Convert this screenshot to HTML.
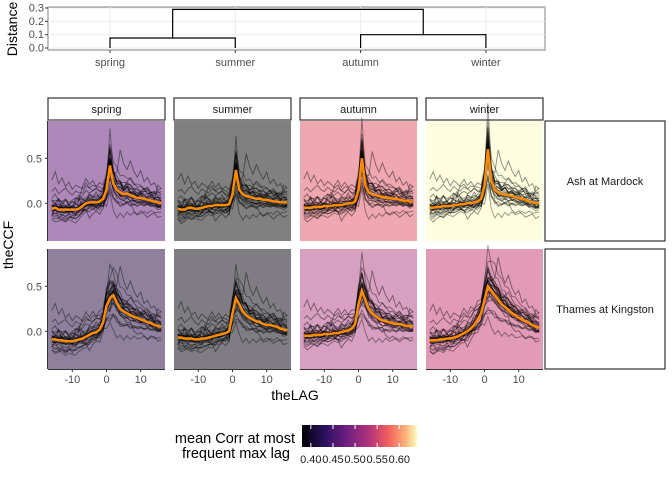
<!DOCTYPE html>
<html><head><meta charset="utf-8"><style>
body{margin:0;background:#fff;font-family:"Liberation Sans",sans-serif}
svg text{font-family:"Liberation Sans",sans-serif}
</style></head><body>
<svg id="c" width="672" height="480" xmlns="http://www.w3.org/2000/svg">
<defs><linearGradient id="mg" x1="0" x2="1">
<stop offset="0" stop-color="#000004"/><stop offset="0.2" stop-color="#2c115f"/><stop offset="0.4" stop-color="#721f81"/><stop offset="0.6" stop-color="#b73779"/><stop offset="0.75" stop-color="#f1605d"/><stop offset="0.9" stop-color="#feb078"/><stop offset="1" stop-color="#fcfdbf"/></linearGradient></defs>
<g id="dendro"></g>
<g id="panels"></g>
<text x="13" y="245" font-size="14" text-anchor="middle" transform="rotate(-90 13 245)">theCCF</text>
<text x="295" y="400" font-size="14" text-anchor="middle">theLAG</text>
<g>
<text x="295" y="443" font-size="14.5" text-anchor="end">mean Corr at most</text>
<text x="290" y="458" font-size="14.5" text-anchor="end">frequent max lag</text>
<rect x="302" y="425" width="115" height="22" fill="url(#mg)"/>
<g id="cbt"></g>
</g>
</svg>
<script>
const leaves=["spring","summer","autumn","winter"];
const merges=[[0,1,0.075],[2,3,0.1],[0.5,2.5,0.29]];
const distTicks=[0,0.1,0.2,0.3];
const cbTicks=[0.40,0.45,0.50,0.55,0.60];
const lags=[];for(let l=-16;l<=16;l++)lags.push(l);
const rows=["Ash at Mardock","Thames at Kingston"];
const panelFill=[["#ad88b9","#808080","#f0a8b0","#fefde0"],["#8f819e","#7f7d83","#d79fc0","#e29bb6"]];
const meanAshSpring=[-0.06,-0.05,-0.07,-0.07,-0.07,-0.07,-0.07,-0.07,-0.06,-0.03,0,0.01,0.01,0.01,0.02,0.05,0.15,0.42,0.22,0.15,0.12,0.1,0.11,0.09,0.07,0.06,0.06,0.05,0.04,0.03,0.02,0.01,0];
const meanAshSummer=[-0.06,-0.07,-0.07,-0.05,-0.05,-0.06,-0.06,-0.05,-0.04,-0.03,-0.03,-0.02,-0.02,-0.02,-0.02,-0.01,0.1,0.37,0.15,0.1,0.08,0.07,0.06,0.05,0.05,0.04,0.04,0.03,0.02,0.02,0.01,0.01,0.01];
const meanAshAutumn=[-0.05,-0.05,-0.05,-0.04,-0.04,-0.04,-0.03,-0.03,-0.03,-0.02,-0.02,-0.02,-0.01,0,0,0.02,0.15,0.5,0.2,0.12,0.1,0.09,0.08,0.07,0.06,0.06,0.05,0.05,0.04,0.03,0.03,0.02,0.02];
const meanAshWinter=[-0.05,-0.05,-0.04,-0.04,-0.03,-0.03,-0.03,-0.02,-0.02,-0.01,-0.01,0,0,0.01,0.02,0.05,0.2,0.6,0.25,0.15,0.12,0.1,0.1,0.09,0.08,0.07,0.06,0.05,0.04,0.02,0.01,0,0];
const meanThSpring=[-0.09,-0.09,-0.1,-0.1,-0.11,-0.11,-0.11,-0.1,-0.09,-0.08,-0.06,-0.04,-0.02,-0.01,0.02,0.1,0.28,0.37,0.4,0.32,0.25,0.22,0.2,0.18,0.16,0.15,0.13,0.12,0.1,0.09,0.07,0.06,0.05];
const meanThSummer=[-0.07,-0.07,-0.08,-0.08,-0.08,-0.09,-0.09,-0.08,-0.08,-0.07,-0.06,-0.05,-0.04,-0.03,-0.02,0,0.2,0.37,0.3,0.22,0.18,0.15,0.13,0.11,0.1,0.08,0.07,0.07,0.06,0.05,0.03,0.02,0.01];
const meanThAutumn=[-0.05,-0.05,-0.05,-0.04,-0.04,-0.04,-0.03,-0.03,-0.03,-0.02,-0.02,-0.01,0,0.01,0.03,0.08,0.3,0.45,0.35,0.25,0.2,0.17,0.14,0.12,0.11,0.1,0.09,0.08,0.08,0.07,0.06,0.06,0.05];
const meanThWinter=[-0.1,-0.1,-0.1,-0.09,-0.09,-0.08,-0.08,-0.07,-0.06,-0.04,-0.02,0,0.03,0.07,0.13,0.2,0.35,0.5,0.45,0.4,0.35,0.3,0.27,0.24,0.2,0.18,0.15,0.13,0.11,0.09,0.07,0.05,0.04];
const means=[[meanAshSpring,meanAshSummer,meanAshAutumn,meanAshWinter],[meanThSpring,meanThSummer,meanThAutumn,meanThWinter]];
const dev1=[0.1,0.05,0.12,0.08,0.04,0.06,0.09,0.07,0.1,0.08,0.06,0.09,0.07,0.05,0.08,0.1,0.15,0.2,0.12,0.1,0.12,0.08,0.1,0.12,0.09,0.1,0.07,0.08,0.1,0.06,0.07,0.05,0.06];
const dev2=[-0.08,-0.1,-0.07,-0.09,-0.11,-0.08,-0.1,-0.12,-0.09,-0.08,-0.1,-0.07,-0.09,-0.06,-0.08,-0.05,-0.1,-0.15,-0.12,-0.09,-0.1,-0.08,-0.11,-0.07,-0.09,-0.08,-0.1,-0.07,-0.06,-0.08,-0.07,-0.09,-0.06];
const dev3=[0.02,0.06,0.03,-0.02,0.05,0.08,0.04,0.01,0.05,0.03,0.06,0.02,0.04,0.07,0.03,0.06,0.1,0.25,0.18,0.14,0.2,0.15,0.12,0.16,0.1,0.13,0.09,0.11,0.07,0.09,0.06,0.08,0.05];
const dev4=[-0.12,-0.14,-0.11,-0.13,-0.15,-0.12,-0.1,-0.13,-0.11,-0.09,-0.12,-0.1,-0.08,-0.1,-0.07,-0.05,-0.05,0.1,-0.04,-0.06,-0.08,-0.05,-0.07,-0.04,-0.06,-0.03,-0.05,-0.07,-0.04,-0.06,-0.05,-0.08,-0.06];
const dev5=[0.04,-0.02,0.01,0.05,-0.01,0.03,-0.03,0.02,0.04,0,-0.02,0.03,0.05,0.01,0.04,0.08,0.05,0.05,0.08,0.12,0.07,0.1,0.06,0.04,0.08,0.05,0.03,0.06,0.02,0.04,0.01,0.03,0.02];
const dev6=[-0.03,0.02,-0.05,-0.01,-0.04,0,-0.06,-0.02,-0.03,-0.05,-0.01,-0.04,-0.02,-0.05,-0.03,-0.1,-0.02,0.15,0.02,-0.02,0.03,-0.01,0.02,-0.03,0,-0.02,0.01,-0.03,-0.01,-0.02,0,-0.04,-0.02];
const dev7=[0.07,0.09,0.05,0.1,0.06,0.08,0.03,0.05,0.02,0.04,0.01,0.03,0,0.02,0.05,0.02,0.12,0.1,0.2,0.25,0.18,0.22,0.16,0.19,0.14,0.17,0.15,0.12,0.14,0.1,0.12,0.11,0.1];
const dev8=[-0.05,-0.08,-0.04,-0.06,-0.03,-0.07,-0.05,-0.02,-0.06,-0.04,-0.07,-0.03,-0.05,-0.02,-0.04,-0.08,-0.12,-0.05,-0.1,-0.07,-0.05,-0.08,-0.04,-0.06,-0.03,-0.05,-0.02,-0.04,-0.06,-0.03,-0.05,-0.04,-0.07];
const devs=[dev1,dev2,dev3,dev4,dev5,dev6,dev7,dev8];
const devScale=[1,0.6,-0.7,1.3,-0.4,0.8,1.6,-1,0.3,-1.3,1.9,-1.6,0.5,-0.2,1.1,-0.9];

const NS="http://www.w3.org/2000/svg";
function mk(t,a,p){const e=document.createElementNS(NS,t);for(const k in a)e.setAttribute(k,a[k]);(p||document.getElementById('c')).appendChild(e);return e;}
const D=document.getElementById('dendro');
const dx0=48,dx1=545,dy0=7,dy1=50;
const lx=i=>110+i*125.3;
const dy=v=>48-v*133.3;
mk('rect',{x:dx0,y:dy0,width:dx1-dx0,height:dy1-dy0,fill:'#fff',stroke:'#7f7f7f','stroke-width':1},D);
for(let i=0;i<4;i++){const g=mk('line',{x1:lx(i),x2:lx(i),y1:dy0,y2:dy1,stroke:'#ebebeb'},D);}
distTicks.forEach(t=>{mk('line',{x1:dx0,x2:dx1,y1:dy(t),y2:dy(t),stroke:'#ebebeb'},D);
 const tx=mk('text',{x:dx0-4,y:dy(t)+3.5,'font-size':11,'text-anchor':'end',fill:'#4d4d4d'},D);tx.textContent=t.toFixed(1);
 
 mk('line',{x1:dx0-3,x2:dx0,y1:dy(t),y2:dy(t),stroke:'#333'},D);});
merges.forEach(m=>{const [a,b,h]=m;
 const ha=Number.isInteger(a)?0:merges[0][2], hb=Number.isInteger(b)?0:merges[1][2];
 const p=mk('path',{d:`M${lx(a)},${dy(ha)}V${dy(h)}H${lx(b)}V${dy(hb)}`,fill:'none',stroke:'#000','stroke-width':1.2},D);
 });
leaves.forEach((s,i)=>{mk('line',{x1:lx(i),x2:lx(i),y1:dy1,y2:dy1+3,stroke:'#333'},D);
 const t=mk('text',{x:lx(i),y:66,'font-size':11,'text-anchor':'middle',fill:'#4d4d4d'},D);t.textContent=s;
 });
const yt=mk('text',{x:17,y:29,'font-size':14,'text-anchor':'middle',transform:'rotate(-90 17 29)'},D);yt.textContent='Distance';

const P=document.getElementById('panels');
const colX=[48,174,300,426],pw=117;
const rowY=[121,249],ph=120;
const xs=(c,l)=>colX[c]+58.5+l*3.42;
const ys=(r,v)=>rowY[r]+82.3-v*90;
leaves.forEach((s,c)=>{const r=mk('rect',{x:colX[c],y:98,width:pw,height:22,fill:'#fff',stroke:'#333','stroke-width':1.2},P);
 
 const t=mk('text',{x:colX[c]+pw/2,y:113,'font-size':11,'text-anchor':'middle',fill:'#1a1a1a'},P);t.textContent=s;});
rows.forEach((nm,r)=>{const rr=mk('rect',{x:545,y:rowY[r],width:120,height:ph,fill:'#fff',stroke:'#333','stroke-width':1.2},P);
 
 const t=mk('text',{x:605,y:rowY[r]+ph/2+4,'font-size':11,'text-anchor':'middle',fill:'#1a1a1a'},P);t.textContent=nm;
 [0,0.5].forEach(v=>{const tl=mk('text',{x:42,y:ys(r,v)+4,'font-size':11,'text-anchor':'end',fill:'#4d4d4d'},P);tl.textContent=v.toFixed(1);
  mk('line',{x1:45,x2:48,y1:ys(r,v),y2:ys(r,v),stroke:'#333'},P);});
 leaves.forEach((s,c)=>{
  const g=mk('g',{},P);
  mk('rect',{x:colX[c],y:rowY[r],width:pw,height:ph,fill:panelFill[r][c]},g);
  const m=means[r][c];
  devScale.forEach((k,j)=>{const dv=devs[j%devs.length];
   const d=lags.map((l,i)=>(i?'L':'M')+xs(c,l).toFixed(1)+','+ys(r,m[i]+k*dv[(i+j*3)%33]).toFixed(1)).join('');
   const p=mk('path',{d:d,fill:'none',stroke:'#000','stroke-opacity':0.42,'stroke-width':1},g);
   });
  devScale.forEach((k,j)=>{const dv=devs[(j+3)%devs.length];
   const d=lags.map((l,i)=>(i?'L':'M')+xs(c,l).toFixed(1)+','+ys(r,m[i]*(1+0.3*k)+0.6*k*dv[i]).toFixed(1)).join('');
   const p=mk('path',{d:d,fill:'none',stroke:'#000','stroke-opacity':0.38,'stroke-width':1},g);
   });
  const d=lags.map((l,i)=>(i?'L':'M')+xs(c,l).toFixed(1)+','+ys(r,m[i]).toFixed(1)).join('');
  const mp=mk('path',{d:d,fill:'none',stroke:'#ff8c00','stroke-width':2.5},g);
  
  if(r===1){[-10,0,10].forEach(v=>{mk('line',{x1:xs(c,v),x2:xs(c,v),y1:369,y2:372,stroke:'#333'},P);
   const t=mk('text',{x:xs(c,v),y:383,'font-size':11,'text-anchor':'middle',fill:'#4d4d4d'},P);t.textContent=v;});
   mk('line',{x1:colX[c],x2:colX[c]+pw,y1:369.5,y2:369.5,stroke:'#333'},P);}
 });
 mk('line',{x1:47.5,x2:47.5,y1:rowY[r],y2:rowY[r]+ph,stroke:'#333'},P);
});
const CB=document.getElementById('cbt');
const cbx=v=>302+(v-0.38)/(0.64-0.38)*115;
cbTicks.forEach(v=>{mk('line',{x1:cbx(v),x2:cbx(v),y1:425,y2:429,stroke:'#fff'},CB);mk('line',{x1:cbx(v),x2:cbx(v),y1:443,y2:447,stroke:'#fff'},CB);
 const t=mk('text',{x:cbx(v),y:463,'font-size':11,'text-anchor':'middle',fill:'#1a1a1a'},CB);t.textContent=v.toFixed(2);
 });
</script>
</body></html>
